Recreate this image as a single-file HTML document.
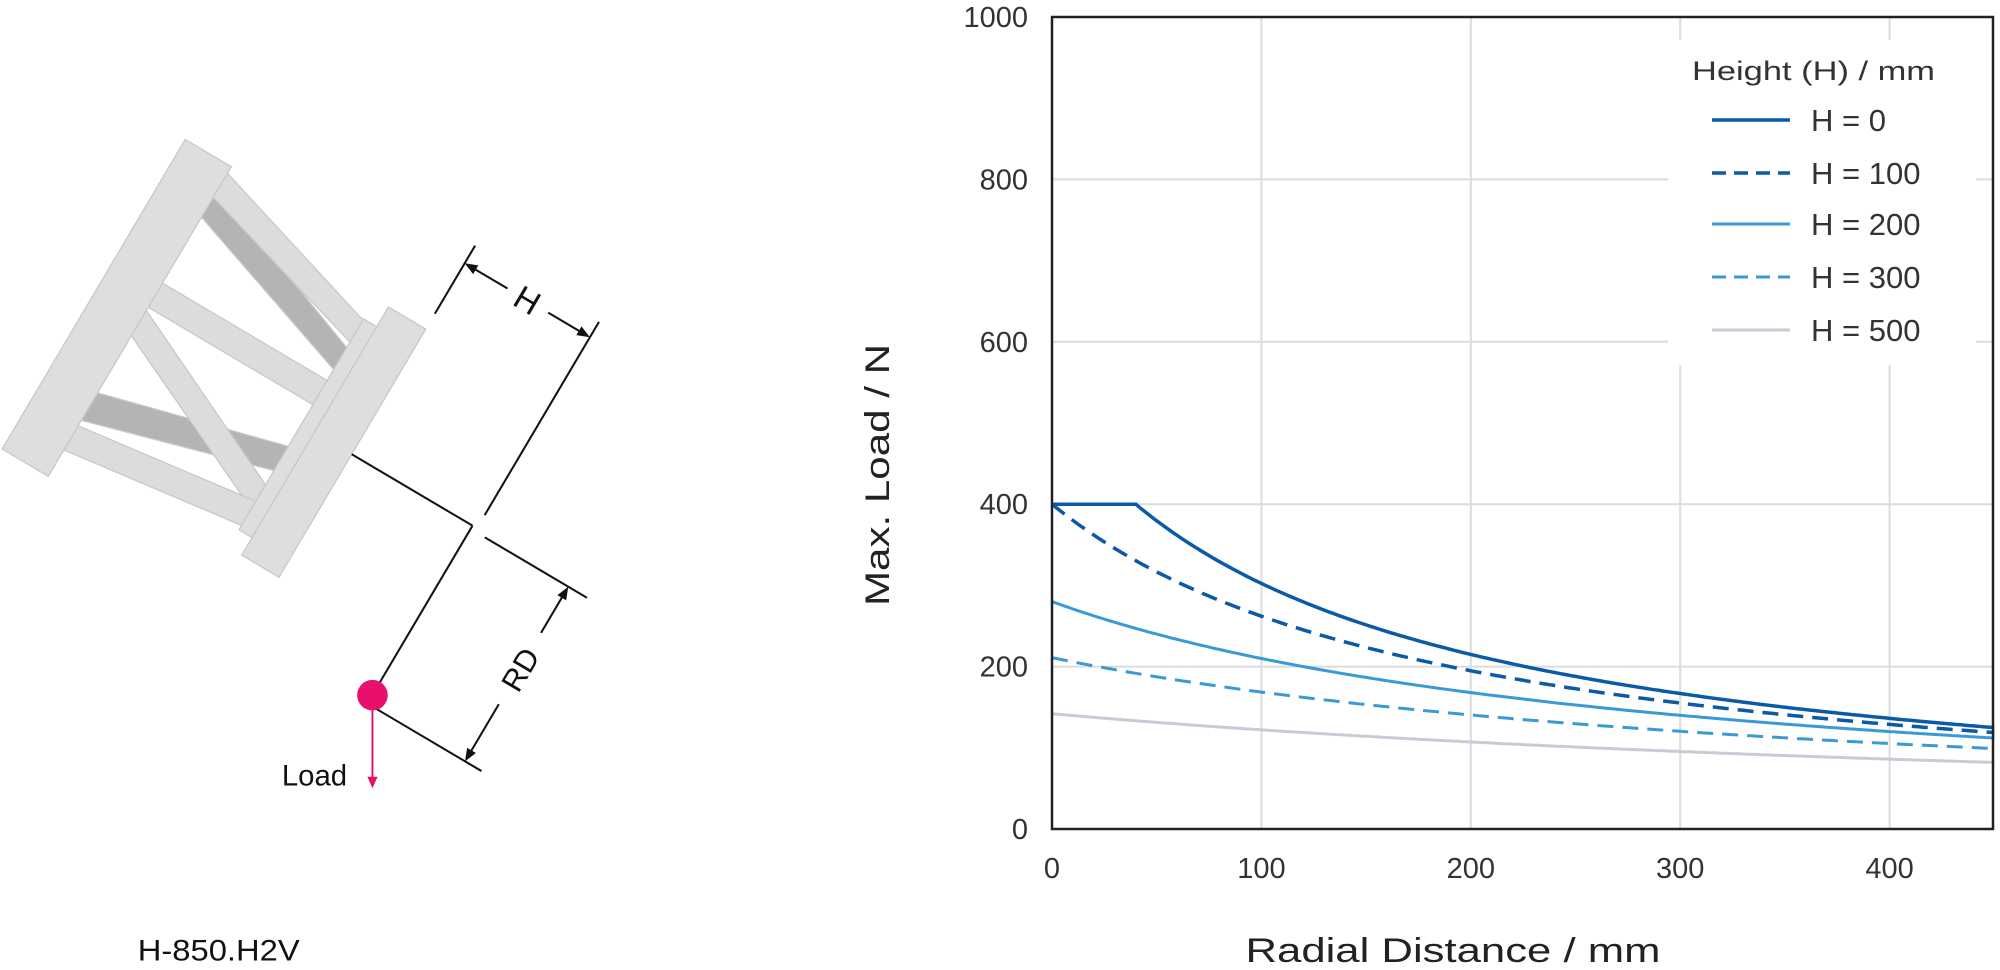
<!DOCTYPE html>
<html><head><meta charset="utf-8"><style>
html,body{margin:0;padding:0;background:#fff;}
svg{display:block;font-family:"Liberation Sans",sans-serif;}
</style></head><body>
<svg id="s" width="2000" height="970" viewBox="0 0 2000 970" xmlns="http://www.w3.org/2000/svg">
<rect width="2000" height="970" fill="#fff"/>
<!-- Diagram -->
<g transform="scale(1.2755)">
 <g transform="translate(262,348) rotate(30.6)">
  <g stroke="#c8c8c8" stroke-width="1">
   <polygon points="-180,-125 -30,-70 -30,-50 -180,-100" fill="#b4b4b4"/>
   <polygon points="-180,60 -30,20 -30,42 -180,85" fill="#b4b4b4"/>
   <polygon points="-180,-140 -30,-95 -30,-75 -180,-118" fill="#dcdcdc"/>
   <polygon points="-180,-40 -30,-40 -30,-18 -180,-18" fill="#dcdcdc"/>
   <polygon points="-180,-15 -30,55 -30,77 -180,8" fill="#dcdcdc"/>
   <polygon points="-180,90 -30,70 -30,92 -180,112" fill="#dcdcdc"/>
  </g>
  <rect x="-222" y="-146" width="42" height="282" fill="#dedede" stroke="#c8c8c8"/>
  <rect x="-30" y="-96" width="12" height="192" fill="#dedede" stroke="#c8c8c8"/>
  <rect x="-18" y="-114" width="34" height="226" fill="#dedede" stroke="#c8c8c8"/>
  <g stroke="#111" stroke-width="1.6" fill="none">
   <line x1="16" y1="0" x2="126" y2="0"/>
   <line x1="126" y1="0" x2="126" y2="150"/>
   <line x1="132" y1="162" x2="230" y2="162"/>
   <line x1="130" y1="-12" x2="130" y2="-188"/>
   <line x1="16" y1="-128" x2="16" y2="-190"/>
   <line x1="139" y1="3" x2="232" y2="3"/>
   <line x1="22" y1="-174" x2="55" y2="-174"/>
   <line x1="92" y1="-174" x2="124" y2="-174"/>
   <line x1="215" y1="10" x2="215" y2="45"/>
   <line x1="215" y1="110" x2="215" y2="155"/>
  </g>
  <g fill="#111">
   <polygon points="16,-174 26,-178 26,-170"/>
   <polygon points="130,-174 120,-178 120,-170"/>
   <polygon points="215,3 211,13 219,13"/>
   <polygon points="215,162 211,152 219,152"/>
  </g>
  <text x="73" y="-165" font-size="26" text-anchor="middle" fill="#111">H</text>
  <text transform="translate(224,78) rotate(-90)" font-size="24" text-anchor="middle" fill="#111">RD</text>
 </g>
 <line x1="292" y1="545" x2="292" y2="612" stroke="#e8106a" stroke-width="1.5"/>
 <polygon points="292,618 288,609 296,609" fill="#e8106a"/>
 <circle cx="292" cy="545" r="12" fill="#e8106a"/>
 <text x="221" y="616" font-size="23" fill="#111">Load</text>
 <text x="108" y="753" font-size="23" fill="#111" textLength="127" lengthAdjust="spacingAndGlyphs">H-850.H2V</text>
</g>
<!-- Chart -->
<g id="grid" stroke="#dcdcdc" stroke-width="2"></g>
<rect x="1668" y="40" width="308" height="325" fill="#fff"/>
<g id="series" fill="none"></g>
<rect x="1052" y="17" width="941" height="812" fill="none" stroke="#222" stroke-width="2.5"/>
<g id="labels" font-size="29" fill="#333"></g>
<text x="1453" y="962" font-size="34" text-anchor="middle" fill="#222" textLength="415" lengthAdjust="spacingAndGlyphs">Radial Distance / mm</text>
<text transform="translate(889,475) rotate(-90)" font-size="34" text-anchor="middle" fill="#222" textLength="262" lengthAdjust="spacingAndGlyphs">Max. Load / N</text>
<!-- Legend -->
<text x="1692" y="80" font-size="27" fill="#333" textLength="243" lengthAdjust="spacingAndGlyphs">Height (H) / mm</text>
<g stroke-width="3.5">
 <line x1="1712" y1="120" x2="1790" y2="120" stroke="#0a5aa8"/>
 <line x1="1712" y1="173" x2="1790" y2="173" stroke="#0a5aa8" stroke-dasharray="14,8"/>
 <line x1="1712" y1="224" x2="1790" y2="224" stroke="#3a9ad6" stroke-width="3"/>
 <line x1="1712" y1="277" x2="1790" y2="277" stroke="#3a9ad6" stroke-width="3" stroke-dasharray="14,8"/>
 <line x1="1712" y1="330" x2="1790" y2="330" stroke="#c8cad6" stroke-width="3"/>
</g>
<g font-size="31" fill="#333">
 <text x="1811" y="131">H = 0</text>
 <text x="1811" y="184">H = 100</text>
 <text x="1811" y="235">H = 200</text>
 <text x="1811" y="288">H = 300</text>
 <text x="1811" y="341">H = 500</text>
</g>
</svg>
<script>
(function(){
var NS="http://www.w3.org/2000/svg";
function X(v){return 1052+v*2.094;}
function Y(v){return 829-v*0.812;}
function el(p,t,a){var e=document.createElementNS(NS,t);for(var k in a)e.setAttribute(k,a[k]);p.appendChild(e);return e;}
var g=document.getElementById('grid');
[100,200,300,400].forEach(function(v){el(g,'line',{x1:X(v),y1:17,x2:X(v),y2:829});});
[200,400,600,800].forEach(function(v){el(g,'line',{x1:1052,y1:Y(v),x2:1993,y2:Y(v)});});
var L=document.getElementById('labels');
[0,100,200,300,400].forEach(function(v){var t=el(L,'text',{x:X(v),y:878,'text-anchor':'middle'});t.textContent=v;});
[0,200,400,600,800,1000].forEach(function(v){var t=el(L,'text',{x:1028,y:Y(v)+10,'text-anchor':'end'});t.textContent=v;});
var S=document.getElementById('series');
function curve(f){var d='';for(var r=0;r<=450;r+=2){d+=(r?'L':'M')+X(r).toFixed(1)+','+Y(f(r)).toFixed(1);}return d;}
el(S,'path',{d:curve(function(r){return 142*615/(r+615);}),stroke:'#c8cad6','stroke-width':3});
el(S,'path',{d:curve(function(r){return 211*398/(r+398);}),stroke:'#3a9ad6','stroke-width':3,'stroke-dasharray':'16,9'});
el(S,'path',{d:curve(function(r){return 280*300/(r+300);}),stroke:'#3a9ad6','stroke-width':3});
el(S,'path',{d:curve(function(r){return 400*190/(r+190);}),stroke:'#0a5aa8','stroke-width':3.5,'stroke-dasharray':'16,9'});
el(S,'path',{d:curve(function(r){return r<40?400:400*186/(r+146);}),stroke:'#0a5aa8','stroke-width':3.5});
})();
</script>
</body></html>
